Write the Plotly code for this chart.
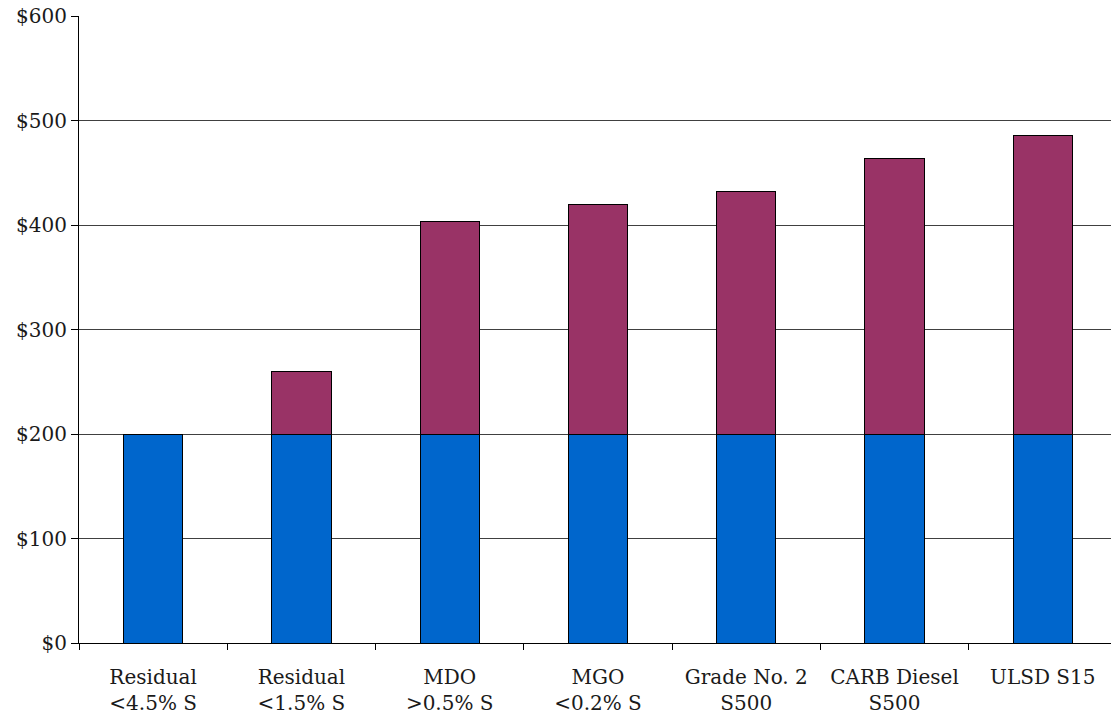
import plotly.graph_objects as go

# Fuel grades along the horizontal axis
fuels = [
    "Residual<br>&lt;4.5% S",
    "Residual<br>&lt;1.5% S",
    "MDO<br>&gt;0.5% S",
    "MGO<br>&lt;0.2% S",
    "Grade No. 2<br>S500",
    "CARB Diesel<br>S500",
    "ULSD S15",
]

# Stacked cost components ($)
base_cost = [200, 200, 200, 200, 200, 200, 200]
premium = [0, 60, 203, 220, 232, 264, 286]

y_ticks = [0, 100, 200, 300, 400, 500, 600]
y_labels = ["$0", "$100", "$200", "$300", "$400", "$500", "$600"]

font_family = "DejaVu Serif"

fig = go.Figure()
fig.add_trace(go.Bar(
    x=fuels, y=base_cost, name="Base",
    marker=dict(color="#0066CC", line=dict(color="#000000", width=1)),
))
fig.add_trace(go.Bar(
    x=fuels, y=premium, name="Premium",
    marker=dict(color="#993366", line=dict(color="#000000", width=1)),
))

fig.update_layout(
    barmode="stack",
    bargap=0.6,
    width=1111, height=727,
    margin=dict(l=79, r=0, t=16, b=84),
    paper_bgcolor="white",
    plot_bgcolor="white",
    showlegend=False,
    font=dict(family=font_family, size=20, color="#000000"),
    xaxis=dict(
        type="category",
        range=[-0.5, 6.46],
        showline=True, linecolor="#000000", linewidth=1,
        ticks="outside", tickson="boundaries", ticklen=6,
        tickcolor="#000000", tickwidth=1,
        showgrid=False,
        ticklabelstandoff=16,
        tickfont=dict(family=font_family, size=20, color="#1a1a1a"),
    ),
    yaxis=dict(
        range=[0, 600],
        tickvals=y_ticks, ticktext=y_labels,
        showline=True, linecolor="#000000", linewidth=1,
        ticks="outside", ticklen=7, tickcolor="#000000", tickwidth=1,
        showgrid=True, gridcolor="#404040", gridwidth=1,
        zeroline=False,
        tickfont=dict(family=font_family, size=20, color="#1a1a1a"),
    ),
)

fig.write_html("out.html")
